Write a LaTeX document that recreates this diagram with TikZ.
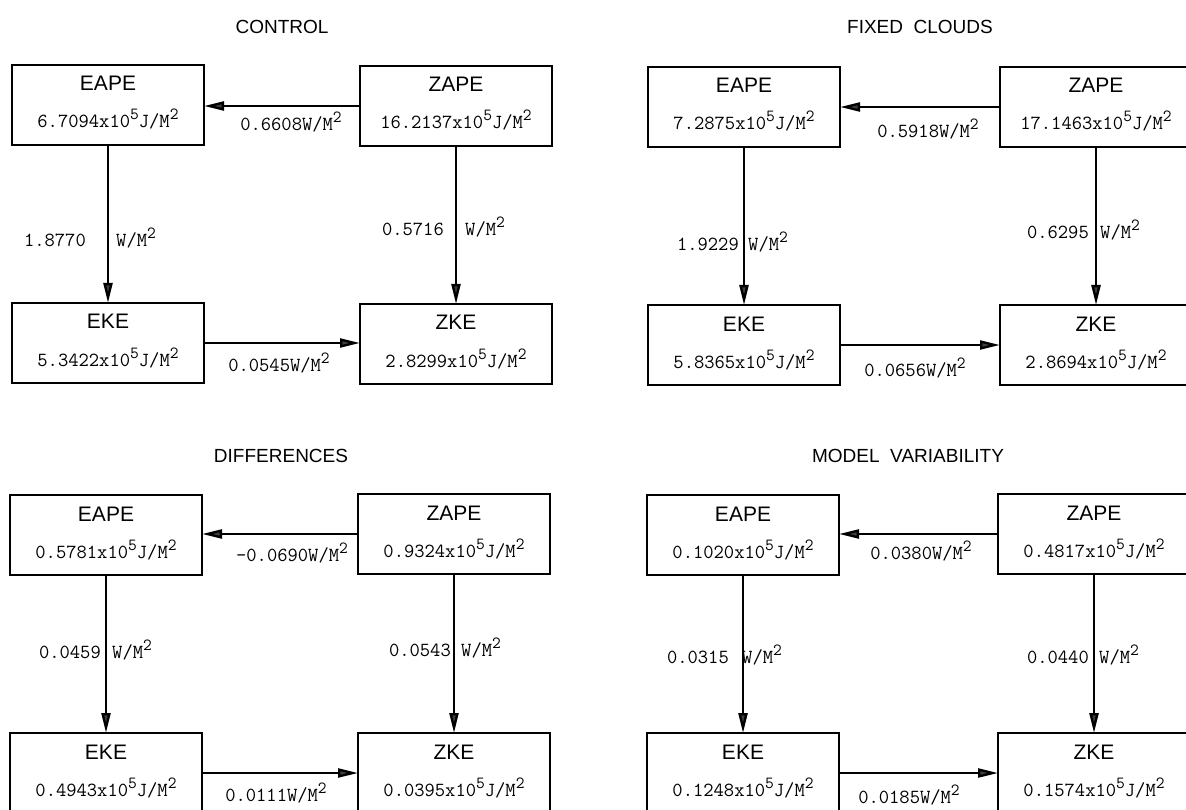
\documentclass[tikz,border=0pt]{standalone}
\usepackage{fontspec}
\setsansfont{Liberation Sans}
\usepackage{tikz}
\usetikzlibrary{calc,arrows.meta,positioning}

\tikzset{
  ebox/.style={draw, line width=2.8pt, anchor=north west, minimum width=192pt,
    minimum height=80pt, inner sep=0pt, outer sep=0pt},
  etitle/.style={anchor=base, inner sep=0pt, font=\sffamily\fontsize{21}{21}\selectfont},
  evalue/.style={anchor=base, inner sep=0pt, font=\ttfamily\fontsize{20}{20}\selectfont},
  flux/.style={line width=2.4pt, -{Triangle[length=20pt,width=9pt,fill=black!75]}},
  fluxlabel/.style={inner sep=0pt, font=\ttfamily\fontsize{20}{20}\selectfont},
  paneltitle/.style={font=\sffamily\fontsize{19}{19}\selectfont}
}
% box with name, top left corner, title and value
\newcommand{\enbox}[5]{%
  \node[ebox] (#1) at (#2,#3) {};
  \node[etitle] (#1-t) at ($(#1.north)+(0,26)$) {#4};
  \node[evalue] (#1-v) at ($(#1.north)+(0,63)$) {#5};
}
\newcommand{\upsc}[1]{\raisebox{8pt}{\fontsize{17}{17}\selectfont #1}}
\newcommand{\Jm}{x10\upsc{5}J/M\upsc{2}}
\newcommand{\Wm}{W/M\upsc{2}}

\begin{document}
\begin{tikzpicture}[x=1pt,y=-1pt]
  \useasboundingbox (0,0) rectangle (1186,810);
  \clip (0,0) rectangle (1186,810);

  % control
  \node[paneltitle] (t1) at (282,27) {CONTROL};
  \enbox{eape1}{12}{65}{EAPE}{6.7094\Jm}
  \enbox{zape1}{360}{66}{ZAPE}{16.2137\Jm}
  \enbox{eke1}{12}{303}{EKE}{5.3422\Jm}
  \enbox{zke1}{360}{304}{ZKE}{2.8299\Jm}
  \draw[flux] (zape1.west) -- (zape1.west -| eape1.east);
  \draw[flux] (eape1.south) -- (eape1.south |- eke1.north);
  \draw[flux] (zape1.south) -- (zape1.south |- zke1.north);
  \draw[flux] (eke1.east) -- (eke1.east -| zke1.west);
  \node[fluxlabel, anchor=base] (f1a) at (291,131) {0.6608\Wm};
  \node[fluxlabel, anchor=base east] (f1b) at (86,247) {1.8770};
  \node[fluxlabel, anchor=base west] (f1bu) at (116,247) {\Wm};
  \node[fluxlabel, anchor=base east] (f1c) at (444,236) {0.5716};
  \node[fluxlabel, anchor=base west] (f1cu) at (465,236) {\Wm};
  \node[fluxlabel, anchor=base] (f1d) at (279,371) {0.0545\Wm};

  % fixed clouds
  \node[paneltitle] (t2) at (920,27) {FIXED\ \ CLOUDS};
  \enbox{eape2}{648}{67}{EAPE}{7.2875\Jm}
  \enbox{zape2}{1000}{67}{ZAPE}{17.1463\Jm}
  \enbox{eke2}{648}{305}{EKE}{5.8365\Jm}
  \enbox{zke2}{1000}{305}{ZKE}{2.8694\Jm}
  \draw[flux] (zape2.west) -- (zape2.west -| eape2.east);
  \draw[flux] (eape2.south) -- (eape2.south |- eke2.north);
  \draw[flux] (zape2.south) -- (zape2.south |- zke2.north);
  \draw[flux] (eke2.east) -- (eke2.east -| zke2.west);
  \node[fluxlabel, anchor=base] (f2a) at (928,138) {0.5918\Wm};
  \node[fluxlabel, anchor=base east] (f2b) at (739,251) {1.9229};
  \node[fluxlabel, anchor=base west] (f2bu) at (748,251) {\Wm};
  \node[fluxlabel, anchor=base east] (f2c) at (1089,239) {0.6295};
  \node[fluxlabel, anchor=base west] (f2cu) at (1100,239) {\Wm};
  \node[fluxlabel, anchor=base] (f2d) at (915,376) {0.0656\Wm};

  % differences
  \node[paneltitle] (t3) at (281,456) {DIFFERENCES};
  \enbox{eape3}{10}{495}{EAPE}{0.5781\Jm}
  \enbox{zape3}{358}{494}{ZAPE}{0.9324\Jm}
  \enbox{eke3}{10}{733}{EKE}{0.4943\Jm}
  \enbox{zke3}{358}{733}{ZKE}{0.0395\Jm}
  \draw[flux] (zape3.west) -- (zape3.west -| eape3.east);
  \draw[flux] (eape3.south) -- (eape3.south |- eke3.north);
  \draw[flux] (zape3.south) -- (zape3.south |- zke3.north);
  \draw[flux] (eke3.east) -- (eke3.east -| zke3.west);
  \node[fluxlabel, anchor=base] (f3a) at (292,561) {-0.0690\Wm};
  \node[fluxlabel, anchor=base east] (f3b) at (101,658) {0.0459};
  \node[fluxlabel, anchor=base west] (f3bu) at (112,658) {\Wm};
  \node[fluxlabel, anchor=base east] (f3c) at (451,656) {0.0543};
  \node[fluxlabel, anchor=base west] (f3cu) at (461,656) {\Wm};
  \node[fluxlabel, anchor=base] (f3d) at (276,801) {0.0111\Wm};

  % model variability
  \node[paneltitle] (t4) at (908,456) {MODEL\ \ VARIABILITY};
  \enbox{eape4}{647}{495}{EAPE}{0.1020\Jm}
  \enbox{zape4}{998}{494}{ZAPE}{0.4817\Jm}
  \enbox{eke4}{647}{733}{EKE}{0.1248\Jm}
  \enbox{zke4}{998}{733}{ZKE}{0.1574\Jm}
  \draw[flux] (zape4.west) -- (zape4.west -| eape4.east);
  \draw[flux] (eape4.south) -- (eape4.south |- eke4.north);
  \draw[flux] (zape4.south) -- (zape4.south |- zke4.north);
  \draw[flux] (eke4.east) -- (eke4.east -| zke4.west);
  \node[fluxlabel, anchor=base] (f4a) at (921,559) {0.0380\Wm};
  \node[fluxlabel, anchor=base east] (f4b) at (729,663) {0.0315};
  \node[fluxlabel, anchor=base west] (f4bu) at (742,663) {\Wm};
  \node[fluxlabel, anchor=base east] (f4c) at (1089,663) {0.0440};
  \node[fluxlabel, anchor=base west] (f4cu) at (1099,663) {\Wm};
  \node[fluxlabel, anchor=base] (f4d) at (909,803) {0.0185\Wm};
\end{tikzpicture}
\end{document}
